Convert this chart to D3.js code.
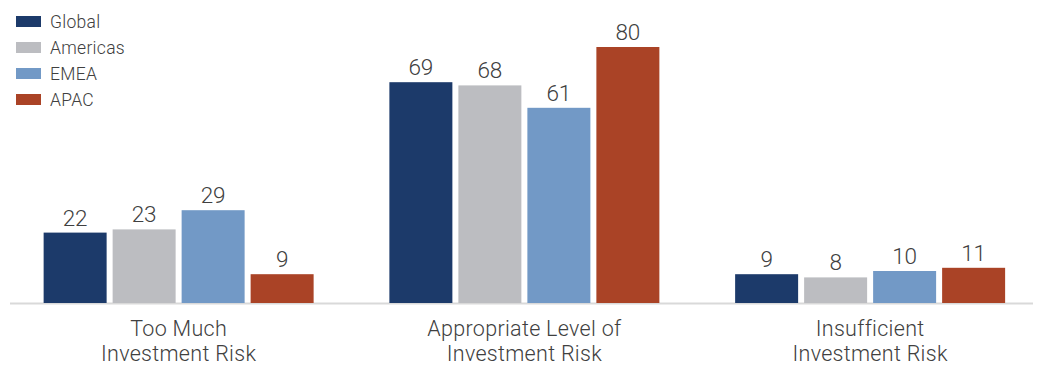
<!DOCTYPE html>
<html>
<head>
<meta charset="utf-8">
<script src="https://cdn.jsdelivr.net/npm/d3@7"></script>
<style>
  html, body { margin: 0; padding: 0; background: #fff; }
  svg { display: block; font-family: Roboto, "Helvetica Neue", Arial, sans-serif; }
</style>
</head>
<body>
<svg id="chart" width="1037" height="365"></svg>
<script>
// Survey responses by region (percent)
const categories = [
  ["Too Much", "Investment Risk"],
  ["Appropriate Level of", "Investment Risk"],
  ["Insufficient", "Investment Risk"]
];
const seriesNames = ["Global", "Americas", "EMEA", "APAC"];
const globalValues   = [22, 69, 9];
const americasValues = [23, 68, 8];
const emeaValues     = [29, 61, 10];
const apacValues     = [9, 80, 11];
const seriesColors = ["#1c3a6a", "#bcbdc1", "#7299c6", "#aa4326"];

const seriesValues = [globalValues, americasValues, emeaValues, apacValues];
const catKeys = categories.map(c => c.join(" "));

const svg = d3.select("#chart");
const baseline = 303;
const textColor = "#404040";

const x0 = d3.scaleBand().domain(catKeys).range([5.75, 1043]).padding(0);
const x1 = d3.scaleBand().domain(seriesNames).range([0, x0.bandwidth()])
  .paddingInner(0.087).paddingOuter(0.549);
const y = d3.scaleLinear().domain([0, 80]).range([baseline, 47]);

// Baseline axis rule
svg.append("line")
  .attr("x1", 10).attr("x2", 1033)
  .attr("y1", baseline + 0.5).attr("y2", baseline + 0.5)
  .attr("stroke", "#d9d9d9").attr("stroke-width", 2);

// Bars and value labels
const groups = svg.selectAll("g.cat")
  .data(catKeys)
  .join("g")
  .attr("class", "cat")
  .attr("transform", d => `translate(${x0(d)},0)`);

groups.each(function(cat, ci) {
  const g = d3.select(this);
  const rows = seriesNames.map((name, si) => ({ name, si, value: seriesValues[si][ci] }));
  g.selectAll("rect")
    .data(rows)
    .join("rect")
    .attr("x", d => x1(d.name))
    .attr("width", x1.bandwidth())
    .attr("y", d => y(d.value))
    .attr("height", d => baseline - y(d.value))
    .attr("fill", d => seriesColors[d.si]);
  g.selectAll("text.val")
    .data(rows)
    .join("text")
    .attr("class", "val")
    .attr("x", d => x1(d.name) + x1.bandwidth() / 2)
    .attr("y", d => y(d.value) - 7)
    .attr("text-anchor", "middle")
    .attr("font-size", 22.5)
    .attr("font-weight", 300)
    .attr("fill", textColor)
    .text(d => d.value);
});

// Category labels (two lines)
categories.forEach((lines, ci) => {
  const cx = x0(catKeys[ci]) + x0.bandwidth() / 2;
  const t = svg.append("text")
    .attr("text-anchor", "middle")
    .attr("font-size", 21.5)
    .attr("font-weight", 300)
    .attr("letter-spacing", 0.3)
    .attr("fill", textColor);
  lines.forEach((line, li) => {
    t.append("tspan").attr("x", cx).attr("y", 336 + li * 25).text(line);
  });
});

// Legend
const legend = svg.append("g").attr("transform", "translate(16,16)");
seriesNames.forEach((name, i) => {
  const row = legend.append("g").attr("transform", `translate(0,${i * 26})`);
  row.append("rect").attr("width", 25).attr("height", 11).attr("fill", seriesColors[i]);
  row.append("text")
    .attr("x", 34).attr("y", 11.5)
    .attr("font-size", 17.5)
    .attr("font-weight", 300)
    .attr("letter-spacing", 0.3)
    .attr("fill", textColor)
    .text(name);
});
</script>
</body>
</html>
